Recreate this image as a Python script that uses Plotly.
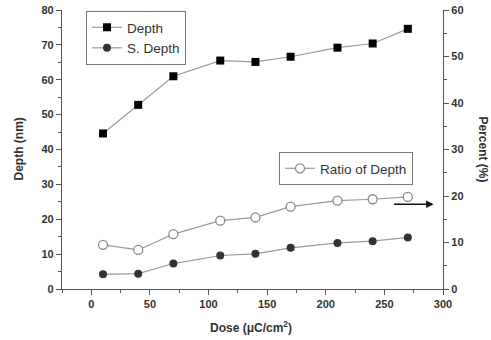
import plotly.graph_objects as go

dose = [10, 40, 70, 110, 140, 170, 210, 240, 270]
depth = [44.6, 52.8, 61.0, 65.5, 65.1, 66.6, 69.2, 70.4, 74.6]
s_depth = [4.2, 4.4, 7.3, 9.6, 10.1, 11.8, 13.2, 13.7, 14.8]
ratio = [9.5, 8.4, 11.8, 14.7, 15.4, 17.7, 19.0, 19.3, 19.8]

FONT = "Liberation Sans, Arial, sans-serif"
TXT = "#333333"
LINE = "#9a9a9a"

L, R, T, B = 62, 48, 10, 51
PW, PH = 491 - L - R, 340 - T - B


def px(xp):
    return (xp - L) / PW


def py(yp):
    return 1 - (yp - T) / PH


fig = go.Figure()
fig.add_trace(go.Scatter(x=dose, y=depth, name="Depth", mode="lines+markers",
                         line=dict(color=LINE, width=1.2),
                         marker=dict(symbol="square", size=8, color="#000000"),
                         legend="legend"))
fig.add_trace(go.Scatter(x=dose, y=s_depth, name="S. Depth", mode="lines+markers",
                         line=dict(color=LINE, width=1.2),
                         marker=dict(symbol="circle", size=8, color="#333333"),
                         legend="legend"))
fig.add_trace(go.Scatter(x=dose, y=ratio, name="Ratio of Depth", mode="lines+markers",
                         line=dict(color=LINE, width=1.2),
                         marker=dict(symbol="circle", size=9, color="white",
                                     line=dict(color="#8a8a8a", width=1.3)),
                         yaxis="y2", legend="legend2"))

axis_common = dict(showline=True, linecolor="#555555", linewidth=1.3, ticks="outside",
                   ticklen=5, tickwidth=1.2, tickcolor="#555555", showgrid=False, zeroline=False,
                   automargin=False,
                   tickfont=dict(family=FONT, size=11, color=TXT, weight="bold"))

fig.update_layout(
    width=491, height=340,
    margin=dict(l=L, r=R, t=T, b=B),
    paper_bgcolor="white", plot_bgcolor="white",
    font=dict(family=FONT, color=TXT),
    xaxis=dict(range=[-25, 300], tickvals=[0, 50, 100, 150, 200, 250, 300],
               minor=dict(ticks="outside", ticklen=3, tickcolor="#555555", dtick=25, tick0=25),
               **axis_common),
    yaxis=dict(range=[0, 80], dtick=10,
               minor=dict(ticks="outside", ticklen=3, tickcolor="#555555", dtick=5),
               **axis_common),
    yaxis2=dict(range=[0, 60], dtick=10, overlaying="y", side="right",
                minor=dict(ticks="outside", ticklen=3, tickcolor="#555555", dtick=5),
                **axis_common),
    legend=dict(x=px(86), y=py(11), xanchor="left", yanchor="top",
                bordercolor="#777777", borderwidth=1, bgcolor="white",
                font=dict(family=FONT, size=13.5, color=TXT), tracegroupgap=0, itemwidth=30,
                orientation="v"),
    legend2=dict(x=px(279), y=py(152), xanchor="left", yanchor="top",
                 bordercolor="#777777", borderwidth=1, bgcolor="white",
                 font=dict(family=FONT, size=13.5, color=TXT), itemwidth=30),
    showlegend=True,
)

fig.add_annotation(x=292, y=24.3, ax=257, ay=24.3, xref="x", yref="y", axref="x", ayref="y",
                   showarrow=True, arrowhead=2, arrowsize=1, arrowwidth=1.5, arrowcolor="#111111", text="")
fig.add_annotation(x=px(483), y=0.5, xref="paper", yref="paper", text="<b>Percent (%)</b>",
                   textangle=90, showarrow=False, xanchor="center", yanchor="middle",
                   font=dict(family=FONT, size=12, color=TXT))
fig.add_annotation(x=px(18), y=0.5, xref="paper", yref="paper", text="<b>Depth (nm)</b>",
                   textangle=-90, showarrow=False, xanchor="center", yanchor="middle",
                   font=dict(family=FONT, size=12, color=TXT))
fig.add_annotation(x=px(251), y=py(327), xref="paper", yref="paper", text="<b>Dose (μC/cm<sup>2</sup>)</b>",
                   showarrow=False, xanchor="center", yanchor="middle",
                   font=dict(family=FONT, size=12, color=TXT))

fig.write_html("out.html")
